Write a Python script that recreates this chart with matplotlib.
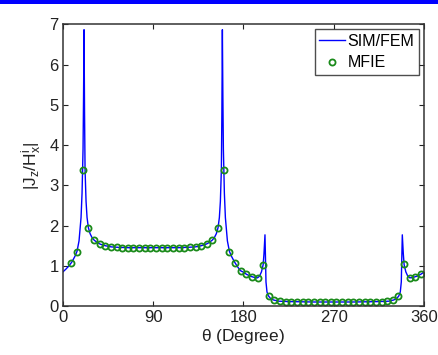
import matplotlib
matplotlib.use("Agg")
import matplotlib.pyplot as plt
from matplotlib.patches import Rectangle

plt.rcParams['font.family'] = ['Liberation Sans', 'DejaVu Sans']
plt.rcParams['mathtext.fontset'] = 'custom'
plt.rcParams['mathtext.rm'] = 'Liberation Sans'
plt.rcParams['mathtext.default'] = 'regular'

# SIM/FEM curve
fem_theta = [0, 3, 6, 9, 12, 14, 16, 18, 19, 20, 20.5, 21, 21.5, 22, 23, 24, 25.3, 27, 29, 31,
             34, 37, 42, 48, 55, 65, 75, 90, 105, 115, 125, 132, 138, 143, 146, 149, 151, 153,
             154.7, 156, 157, 158, 158.5, 159, 159.5, 160, 161, 162, 164, 166, 168, 171, 174,
             177, 180, 183, 187, 191, 194, 196, 198, 199.7, 200.5, 201.5, 202, 202.5, 203.5,
             205, 207, 210, 215, 225, 250, 270, 290, 315, 325, 330, 333, 335, 336.5, 337.5,
             338, 338.5, 339.5, 340.3, 342, 344, 346, 349, 353, 357, 360]
fem_val = [0.85, 0.92, 1.00, 1.10, 1.24, 1.36, 1.62, 2.20, 2.80, 3.90, 5.20, 6.87, 4.80, 3.40,
           2.60, 2.20, 1.95, 1.80, 1.70, 1.64, 1.58, 1.54, 1.50, 1.47, 1.46, 1.45, 1.45, 1.45,
           1.45, 1.45, 1.46, 1.47, 1.50, 1.54, 1.58, 1.64, 1.70, 1.80, 1.95, 2.20, 2.60, 3.40,
           4.80, 6.87, 5.20, 3.90, 2.80, 2.20, 1.62, 1.36, 1.24, 1.10, 0.98, 0.88, 0.84, 0.79,
           0.74, 0.71, 0.70, 0.74, 0.85, 1.03, 1.30, 1.77, 1.20, 0.60, 0.35, 0.25, 0.19, 0.15,
           0.12, 0.11, 0.10, 0.10, 0.10, 0.11, 0.12, 0.15, 0.19, 0.25, 0.35, 0.60, 1.20, 1.77,
           1.30, 1.03, 0.85, 0.74, 0.70, 0.71, 0.74, 0.79, 0.84]

# MFIE samples
mfie_theta = [8.44, 14.06, 19.69, 25.31, 30.94, 36.56, 42.19, 47.81, 53.44, 59.06, 64.69,
              70.31, 75.94, 81.56, 87.19, 92.81, 98.44, 104.06, 109.69, 115.31, 120.94,
              126.56, 132.19, 137.81, 143.44, 149.06, 154.69, 160.31, 165.94, 171.56, 177.19,
              182.81, 188.44, 194.06, 199.69, 205.31, 210.94, 216.56, 222.19, 227.81, 233.44,
              239.06, 244.69, 250.31, 255.94, 261.56, 267.19, 272.81, 278.44, 284.06, 289.69,
              295.31, 300.94, 306.56, 312.19, 317.81, 323.44, 329.06, 334.69, 340.31, 345.94,
              351.56, 357.19]
mfie_val = [1.08, 1.34, 3.39, 1.94, 1.65, 1.54, 1.50, 1.47, 1.46, 1.45, 1.45, 1.44, 1.44,
            1.44, 1.44, 1.44, 1.44, 1.44, 1.44, 1.45, 1.45, 1.46, 1.47, 1.50, 1.54, 1.65,
            1.94, 3.39, 1.34, 1.08, 0.88, 0.80, 0.73, 0.70, 1.03, 0.25, 0.15, 0.12, 0.11,
            0.11, 0.11, 0.11, 0.11, 0.11, 0.11, 0.11, 0.11, 0.11, 0.11, 0.11, 0.11, 0.11,
            0.11, 0.11, 0.11, 0.11, 0.12, 0.15, 0.25, 1.04, 0.70, 0.73, 0.80]

xticks = [0, 90, 180, 270, 360]
yticks = [0, 1, 2, 3, 4, 5, 6, 7]

fig = plt.figure(figsize=(4.39, 3.55), dpi=100)
ax = fig.add_axes([0.1435, 0.138, 0.822, 0.793])

ax.plot(fem_theta, fem_val, color='#0000ff', lw=1.0, label='SIM/FEM')
ax.plot(mfie_theta, mfie_val, ls='none', marker='o', ms=4.4, mfc='none',
        mec='#1a8a1a', mew=1.3, label='MFIE')

ax.set_xlim(0, 360)
ax.set_ylim(0, 7)
ax.set_xticks(xticks)
ax.set_yticks(yticks)
ax.tick_params(direction='in', length=3.5, width=0.8, top=True, right=True,
               labelsize=12, colors='#222222', pad=3)
for s in ax.spines.values():
    s.set_color('#333333')
    s.set_linewidth(1.1)

ax.set_xlabel(r'$\theta$ (Degree)', fontsize=12.5, color='#222222', labelpad=1)
ax.set_ylabel(r'|J$_z$/H$_x^i$|', fontsize=12.5, color='#222222', labelpad=4)

leg = ax.legend(loc='upper right', fontsize=11.5, frameon=True, fancybox=False,
                borderpad=0.3, handlelength=1.6, handletextpad=0.15, labelspacing=0.4,
                borderaxespad=0.3, numpoints=1)
leg.get_frame().set_edgecolor('#222222')
leg.get_frame().set_linewidth(1.0)

fig.add_artist(Rectangle((0, 1 - 4 / 355), 1, 4 / 355, transform=fig.transFigure,
                         color='#0000ff', lw=0))

fig.savefig('out.png', dpi=100)
